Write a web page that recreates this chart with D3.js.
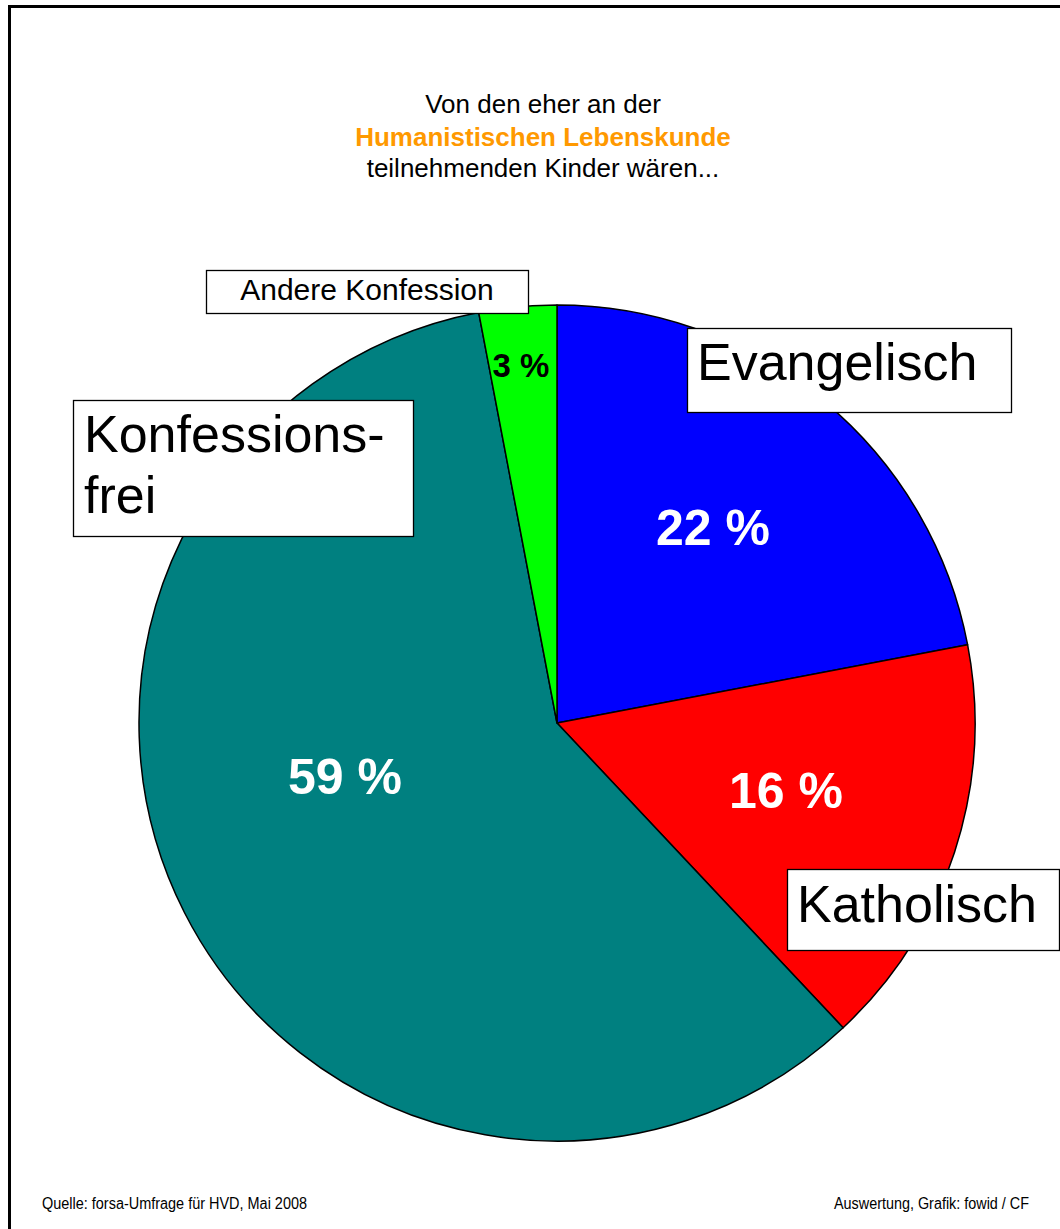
<!DOCTYPE html>
<html>
<head>
<meta charset="utf-8">
<script src="https://cdn.jsdelivr.net/npm/d3@7"></script>
<style>
  body { margin: 0; background: #fff; }
  svg { display: block; font-family: "Liberation Sans", Arial, sans-serif; }
</style>
</head>
<body>
<script>
var width = 1060,
    height = 1229;

// data
var categories = ['Evangelisch', 'Katholisch', 'Konfessionsfrei', 'Andere Konfession'];
var values = [22, 16, 59, 3];
var colors = ['#0000ff', '#ff0000', '#008080', '#00ff00'];
var titleLines = ['Von den eher an der', 'Humanistischen Lebenskunde', 'teilnehmenden Kinder wären...'];

var cx = 557, cy = 723, radius = 418;

var svg = d3.select('body').append('svg')
    .attr('width', width)
    .attr('height', height);

// frame (right/bottom edges fall outside the picture)
svg.append('rect')
    .attr('x', 9.5)
    .attr('y', 6.5)
    .attr('width', 1100)
    .attr('height', 1300)
    .attr('fill', 'none')
    .attr('stroke', '#000')
    .attr('stroke-width', 3);

// title
var title = svg.append('g').attr('text-anchor', 'middle');
var titleY = [113, 146, 177];
title.selectAll('text')
    .data(titleLines)
    .enter().append('text')
    .attr('x', 543)
    .attr('y', (d, i) => titleY[i])
    .attr('font-size', 26)
    .attr('font-weight', (d, i) => i == 1 ? 'bold' : 'normal')
    .attr('fill', (d, i) => i == 1 ? '#ff9900' : '#000')
    .text(d => d);

// pie
var pie = d3.pie().sort(null).value(d => d);
var arc = d3.arc().innerRadius(0).outerRadius(radius);
var arcs = pie(values);

var g = svg.append('g').attr('transform', 'translate(' + cx + ',' + cy + ')');

g.selectAll('path')
    .data(arcs)
    .enter().append('path')
    .attr('d', arc)
    .attr('fill', (d, i) => colors[i])
    .attr('stroke', '#000')
    .attr('stroke-width', 1.5)
    .attr('stroke-linejoin', 'round');

// percent labels (placed by hand in the original, offsets from the centre)
var pctPos = [[156, -178], [229, 85], [-212, 71], [-36, -346]];
var pctSize = [50, 50, 50, 33];
g.selectAll('text.pct')
    .data(arcs)
    .enter().append('text')
    .attr('class', 'pct')
    .attr('x', (d, i) => pctPos[i][0])
    .attr('y', (d, i) => pctPos[i][1])
    .attr('text-anchor', 'middle')
    .attr('font-weight', 'bold')
    .attr('font-size', (d, i) => pctSize[i])
    .attr('fill', (d, i) => i == 3 ? '#000' : '#fff')
    .text(d => d.value + ' %');

// category boxes
var boxes = [
    {x: 687, y: 328, w: 324, h: 84, lines: ['Evangelisch'], size: 52, tx: 697, ty: [380], anchor: 'start'},
    {x: 787, y: 869, w: 272, h: 81, lines: ['Katholisch'], size: 52, tx: 797, ty: [922], anchor: 'start'},
    {x: 73, y: 400, w: 340, h: 136, lines: ['Konfessions-', 'frei'], size: 52, tx: 84, ty: [452, 513], anchor: 'start'},
    {x: 206, y: 270, w: 322, h: 43, lines: ['Andere Konfession'], size: 30, tx: 367, ty: [300], anchor: 'middle'}
];

var box = svg.selectAll('g.box')
    .data(boxes)
    .enter().append('g')
    .attr('class', 'box');

box.append('rect')
    .attr('x', d => d.x + 0.5)
    .attr('y', d => d.y + 0.5)
    .attr('width', d => d.w)
    .attr('height', d => d.h)
    .attr('fill', '#fff')
    .attr('stroke', '#000')
    .attr('stroke-width', 1.3);

box.each(function(d) {
    d3.select(this).selectAll('text')
        .data(d.lines)
        .enter().append('text')
        .attr('x', d.tx)
        .attr('y', (l, i) => d.ty[i])
        .attr('text-anchor', d.anchor)
        .attr('font-size', d.size)
        .attr('fill', '#000')
        .text(l => l);
});

// footer
svg.append('text')
    .attr('x', 42)
    .attr('y', 1209)
    .attr('font-size', 16)
    .attr('textLength', 265)
    .attr('lengthAdjust', 'spacingAndGlyphs')
    .text('Quelle: forsa-Umfrage für HVD, Mai 2008');

svg.append('text')
    .attr('x', 1029)
    .attr('y', 1209)
    .attr('text-anchor', 'end')
    .attr('font-size', 16)
    .attr('textLength', 195)
    .attr('lengthAdjust', 'spacingAndGlyphs')
    .text('Auswertung, Grafik: fowid / CF');
</script>
</body>
</html>
